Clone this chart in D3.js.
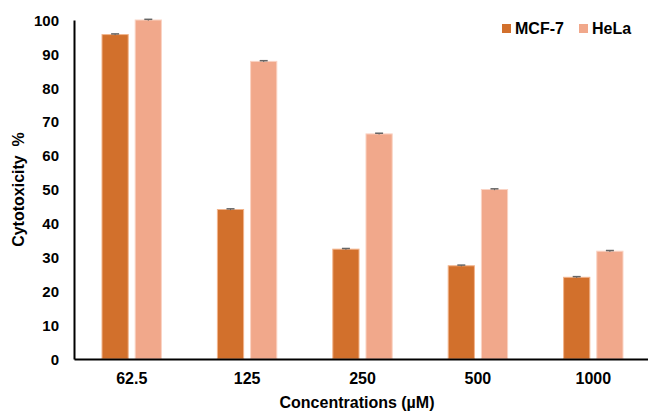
<!DOCTYPE html>
<html>
<head>
  <meta charset="utf-8">
  <script src="https://d3js.org/d3.v7.min.js"></script>
  <style>
    body { margin: 0; background: #fff; }
    text { font-family: Arial, "Liberation Sans", sans-serif; font-weight: bold; fill: #000; }
  </style>
</head>
<body>
<script>
  // data
  var concentrations = ["62.5", "125", "250", "500", "1000"];
  var seriesNames = ["MCF-7", "HeLa"];
  var mcf7 = [95.7, 44.1, 32.4, 27.5, 24.1];
  var hela = [100, 87.8, 66.4, 50.0, 31.8];
  var mcf7Err = [0.2, 0.2, 0.2, 0.2, 0.2];
  var helaErr = [0.2, 0.2, 0.2, 0.2, 0.2];
  var yTicks = [0, 10, 20, 30, 40, 50, 60, 70, 80, 90, 100];
  var colors = ["#D2702C", "#F1A88B"];
  var outlines = ["#F2B48C", "#FAD3C4"];

  var width = 648, height = 412;
  var plotLeft = 74, plotRight = 651, plotTop = 20, plotBottom = 359;

  var svg = d3.select("body").append("svg")
    .attr("width", width)
    .attr("height", height);

  var x = d3.scaleBand()
    .domain(concentrations)
    .range([plotLeft, plotRight])
    .paddingInner(0)
    .paddingOuter(0);

  var x1 = d3.scaleBand()
    .domain(seriesNames)
    .range([28, x.bandwidth() - 28])
    .paddingInner(0.21);

  var y = d3.scaleLinear()
    .domain([0, 100])
    .range([plotBottom, plotTop]);

  var rows = concentrations.map(function(c, i) {
    return { c: c, vals: [
      { s: "MCF-7", v: mcf7[i], e: mcf7Err[i], k: 0 },
      { s: "HeLa", v: hela[i], e: helaErr[i], k: 1 }
    ]};
  });

  var groups = svg.selectAll("g.grp")
    .data(rows)
    .enter().append("g")
      .attr("class", "grp")
      .attr("transform", function(d) { return "translate(" + x(d.c) + ",0)"; });

  groups.selectAll("rect")
    .data(function(d) { return d.vals; })
    .enter().append("rect")
      .attr("x", function(d) { return x1(d.s); })
      .attr("y", function(d) { return y(d.v); })
      .attr("width", x1.bandwidth())
      .attr("height", function(d) { return y(0) - y(d.v); })
      .attr("fill", function(d) { return colors[d.k]; })
      .attr("stroke", function(d) { return outlines[d.k]; })
      .attr("stroke-width", 1);

  // error bars (very small)
  var eb = groups.selectAll("g.err")
    .data(function(d) { return d.vals; })
    .enter().append("g").attr("class", "err");
  eb.append("line")
    .attr("x1", function(d) { return x1(d.s) + x1.bandwidth() / 2; })
    .attr("x2", function(d) { return x1(d.s) + x1.bandwidth() / 2; })
    .attr("y1", function(d) { return y(d.v + d.e); })
    .attr("y2", function(d) { return y(d.v - d.e); })
    .attr("stroke", "#666").attr("stroke-width", 1);
  eb.append("line")
    .attr("x1", function(d) { return x1(d.s) + x1.bandwidth() / 2 - 4; })
    .attr("x2", function(d) { return x1(d.s) + x1.bandwidth() / 2 + 4; })
    .attr("y1", function(d) { return y(d.v + d.e); })
    .attr("y2", function(d) { return y(d.v + d.e); })
    .attr("stroke", "#666").attr("stroke-width", 1.5);

  // axes
  var yAxis = svg.append("g")
    .attr("transform", "translate(" + plotLeft + ",0)")
    .call(d3.axisLeft(y).tickValues(yTicks).tickSize(0).tickPadding(15));
  yAxis.select(".domain").attr("stroke", "#000").attr("stroke-width", 2);
  yAxis.selectAll("text").style("font-size", "15px").attr("dy", "0.35em");

  var xAxis = svg.append("g")
    .attr("transform", "translate(0," + plotBottom + ")")
    .call(d3.axisBottom(x).tickSize(0).tickPadding(14));
  xAxis.select(".domain").attr("stroke", "#000").attr("stroke-width", 2);
  xAxis.selectAll("text").style("font-size", "16px");

  svg.append("text")
    .attr("x", 357).attr("y", 408)
    .attr("text-anchor", "middle")
    .style("font-size", "16px")
    .text("Concentrations (\u00b5M)");

  svg.append("text")
    .attr("transform", "translate(24," + ((plotTop + plotBottom) / 2) + ") rotate(-90)")
    .attr("text-anchor", "middle")
    .style("font-size", "16px")
    .style("white-space", "pre")
    .text("Cytotoxicity  %");

  // legend
  var legendX = [502, 579];
  var lg = svg.selectAll("g.leg")
    .data(seriesNames)
    .enter().append("g")
      .attr("class", "leg")
      .attr("transform", function(d, i) { return "translate(" + legendX[i] + ",24)"; });
  lg.append("rect").attr("width", 9).attr("height", 9)
    .attr("fill", function(d, i) { return colors[i]; });
  lg.append("text").attr("x", 13).attr("y", 10)
    .style("font-size", "16px")
    .text(function(d) { return d; });
</script>
</body>
</html>
